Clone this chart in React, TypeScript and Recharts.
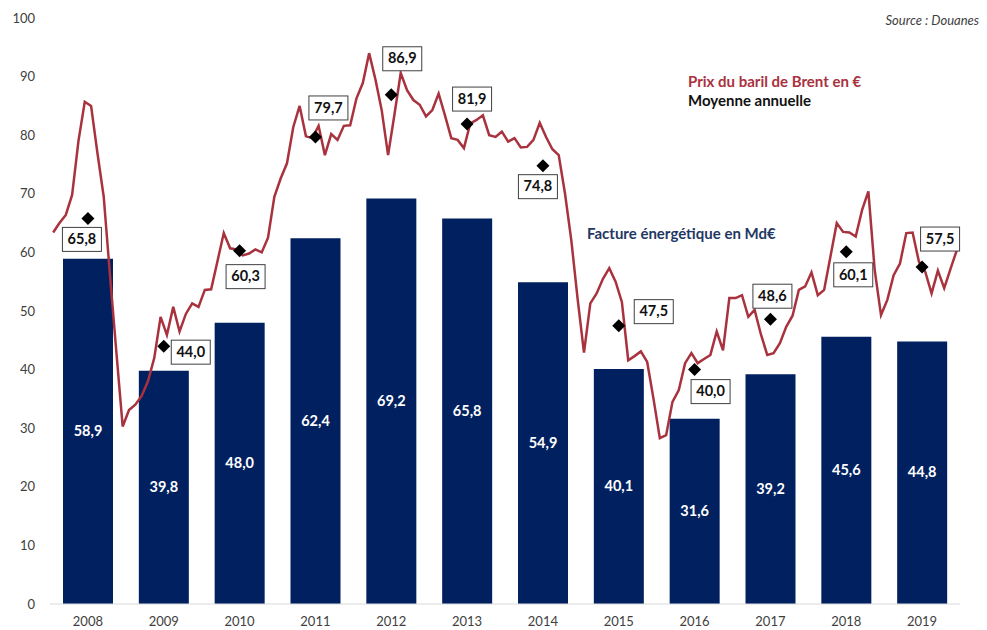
import React from 'react';
import { ComposedChart, Bar, Line, XAxis, YAxis, LabelList } from 'recharts';

const years = ['2008', '2009', '2010', '2011', '2012', '2013', '2014', '2015', '2016', '2017', '2018', '2019'];

// Facture énergétique (Md€)
const facture = [58.9, 39.8, 48.0, 62.4, 69.2, 65.8, 54.9, 40.1, 31.6, 39.2, 45.6, 44.8];

// Moyenne annuelle du Brent en €
const brentAvg = [65.8, 44.0, 60.3, 79.7, 86.9, 81.9, 74.8, 47.5, 40.0, 48.6, 60.1, 57.5];

// Prix mensuel du baril de Brent en € (janv. 2008 -> déc. 2019)
const brent2008 = [63.4, 65.0, 66.4, 69.8, 79.0, 85.7, 85.0, 77.0, 69.5, 56.0, 43.0, 30.3];
const brent2009 = [33.1, 34.0, 35.5, 38.0, 42.0, 49.0, 45.9, 50.7, 46.5, 49.5, 51.3, 50.7];
const brent2010 = [53.6, 53.7, 58.5, 63.3, 60.7, 60.5, 59.5, 59.8, 60.5, 60.0, 62.5, 69.5];
const brent2011 = [72.6, 75.2, 81.4, 85.0, 79.8, 79.5, 81.6, 76.6, 80.2, 79.2, 81.6, 81.7];
const brent2012 = [86.3, 88.9, 94.0, 89.5, 84.2, 76.6, 83.5, 90.6, 87.7, 86.0, 85.2, 83.2];
const brent2013 = [84.3, 87.1, 83.4, 79.5, 79.2, 77.8, 82.0, 82.6, 83.4, 80.0, 79.7, 80.6];
const brent2014 = [78.9, 79.5, 77.9, 78.0, 79.2, 82.1, 79.7, 77.6, 76.6, 70.0, 62.0, 52.0];
const brent2015 = [42.9, 51.3, 53.0, 55.5, 57.3, 55.0, 51.5, 41.6, 42.3, 43.1, 41.3, 35.0];
const brent2016 = [28.3, 28.8, 34.5, 36.5, 41.1, 42.8, 41.1, 41.8, 42.5, 46.5, 43.3, 52.2];
const brent2017 = [52.2, 52.7, 49.0, 50.2, 46.0, 42.5, 42.8, 44.5, 47.3, 49.2, 53.6, 54.2];
const brent2018 = [56.6, 52.7, 53.6, 59.3, 65.0, 63.5, 63.4, 62.7, 67.2, 70.4, 57.0, 49.3];
const brent2019 = [51.9, 56.1, 58.1, 63.3, 63.4, 58.4, 56.7, 53.0, 56.9, 53.9, 57.2, 60.4];

const brentMonthly = [
  ...brent2008, ...brent2009, ...brent2010, ...brent2011, ...brent2012, ...brent2013,
  ...brent2014, ...brent2015, ...brent2016, ...brent2017, ...brent2018, ...brent2019,
];

const yTicks = [0, 10, 20, 30, 40, 50, 60, 70, 80, 90, 100];

const yearlyData = years.map((year, i) => ({ year, facture: facture[i], avg: brentAvg[i] }));
const monthlyData = brentMonthly.map((price, i) => ({ m: i + 0.5, price }));

// where each average box sits relative to its diamond
const avgLabelOffsets = [
  [-6, 21], [27, 6], [6, 26], [13, -29], [11, -36], [5, -25],
  [-5, 21], [35, -14], [16, 22], [2, -23], [7, 23], [18, -28],
];

const FONT = 'Lato, "Open Sans", sans-serif';
const NAVY = '#002060';
const RED = '#a8323e';

const fmt = (v: number) => v.toFixed(1).replace('.', ',');

const Diamond = (props: any) => {
  const { cx, cy, index } = props;
  if (cx == null || cy == null) return <g key={`d-${index}`} />;
  const r = 6.5;
  return (
    <polygon
      key={`d-${index}`}
      points={`${cx},${cy - r} ${cx + r},${cy} ${cx},${cy + r} ${cx - r},${cy}`}
      fill="#000"
    />
  );
};

const AvgLabel = (props: any) => {
  const { x, y, value, index } = props;
  const [dx, dy] = avgLabelOffsets[index] || [0, -25];
  const cx = x + dx;
  const cy = y + dy;
  const w = 39;
  const h = 24;
  return (
    <g key={`l-${index}`}>
      <rect x={cx - w / 2} y={cy - h / 2} width={w} height={h} fill="#fff" stroke="#404040" strokeWidth={1} />
      <text x={cx} y={cy + 1} textAnchor="middle" dominantBaseline="middle"
        fontFamily={FONT} fontWeight={700} fontSize={14.5} fill="#111">
        {fmt(value)}
      </text>
    </g>
  );
};

const BarLabel = (props: any) => {
  const { x, y, width, height, value, index } = props;
  return (
    <text key={`b-${index}`} x={x + width / 2} y={y + height / 2 + 1} textAnchor="middle"
      dominantBaseline="middle" fontFamily={FONT} fontWeight={700} fontSize={14.5} fill="#fff">
      {fmt(value)}
    </text>
  );
};

export default function App() {
  return (
    <div style={{ position: 'absolute', left: 0, top: 0, width: 987, height: 630, background: '#fff', fontFamily: FONT }}>
      <ComposedChart width={987} height={630} data={yearlyData}
        margin={{ top: 18, right: 27, left: 0, bottom: 0 }}>
        <XAxis xAxisId="month" dataKey="m" type="number" domain={[0, 144]} orientation="top"
          height={0} hide allowDataOverflow />
        <XAxis xAxisId="year" dataKey="year" height={26} tickLine={false}
          axisLine={{ stroke: '#d9d9d9' }} tickSize={0} tickMargin={13}
          tick={{ fontSize: 13, fill: '#404040', fontFamily: FONT }} interval={0} />
        <YAxis domain={[0, 100]} ticks={yTicks} width={50} axisLine={false} tickLine={false}
          tickSize={0} tickMargin={15} interval={0}
          tick={{ fontSize: 13, fill: '#404040', fontFamily: FONT }} />
        <Bar xAxisId="year" dataKey="facture" fill={NAVY} barSize={50} isAnimationActive={false}>
          <LabelList dataKey="facture" content={BarLabel} />
        </Bar>
        <Line xAxisId="month" data={monthlyData} dataKey="price" type="linear" stroke={RED}
          strokeWidth={2.5} dot={false} activeDot={false} isAnimationActive={false} />
        <Line xAxisId="year" dataKey="avg" stroke="none" dot={Diamond} activeDot={false}
          isAnimationActive={false}>
          <LabelList dataKey="avg" content={AvgLabel} />
        </Line>
      </ComposedChart>

      <div style={{ position: 'absolute', right: 8, top: 12, fontSize: 13, fontStyle: 'italic', color: '#404040' }}>
        Source : Douanes
      </div>
      <div style={{ position: 'absolute', left: 688, top: 72, fontSize: 15, fontWeight: 700, color: RED, lineHeight: '18px' }}>
        Prix du baril de Brent en €
      </div>
      <div style={{ position: 'absolute', left: 688, top: 91, fontSize: 15, fontWeight: 700, color: '#111', lineHeight: '18px' }}>
        Moyenne annuelle
      </div>
      <div style={{ position: 'absolute', left: 587, top: 224, fontSize: 15, fontWeight: 700, color: '#1f3864', lineHeight: '18px' }}>
        Facture énergétique en Md€
      </div>
    </div>
  );
}
